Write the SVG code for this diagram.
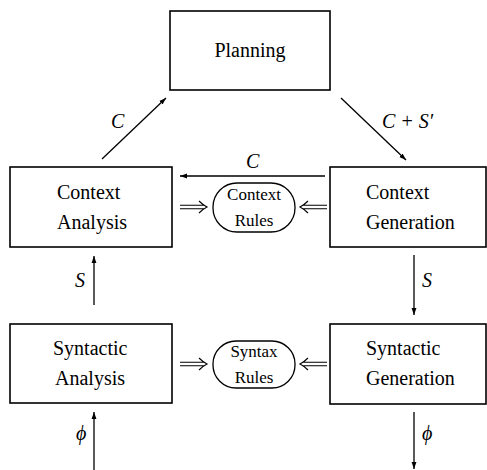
<svg xmlns="http://www.w3.org/2000/svg" width="487" height="470" viewBox="0 0 487 470">
<style>
.box{fill:none;stroke:#000;stroke-width:1.6}
.rule{fill:none;stroke:#000;stroke-width:1.3}
.t{font-family:"Liberation Serif","DejaVu Serif",serif;font-size:20px;fill:#000}
.s{font-family:"Liberation Serif","DejaVu Serif",serif;font-size:17px;fill:#000;text-anchor:middle}
.m{font-family:"Liberation Serif","DejaVu Serif",serif;font-size:20px;font-style:italic;fill:#000}
.ln{fill:none;stroke:#000;stroke-width:1.3}
.dbl{fill:none;stroke:#000;stroke-width:1.1}
</style>
<defs>
<marker id="ah" viewBox="0 0 10 10" refX="10" refY="5" markerWidth="7" markerHeight="7" markerUnits="userSpaceOnUse" orient="auto">
<path d="M0,1.5 L10,5 L0,8.5 z" fill="#000"/>
</marker>
</defs>
<g id="planning">
<rect class="box" x="170" y="11" width="160" height="79"/>
<text class="t" x="250" y="57" text-anchor="middle">Planning</text>
</g>
<g id="context-analysis">
<rect class="box" x="10" y="167" width="162" height="80"/>
<text class="t" x="57" y="199">Context</text>
<text class="t" x="57" y="229">Analysis</text>
</g>
<g id="context-rules">
<rect class="rule" x="213" y="183" width="82" height="49" rx="24" ry="24"/>
<text class="s" x="254" y="200">Context</text>
<text class="s" x="254" y="226">Rules</text>
</g>
<g id="context-generation">
<rect class="box" x="330" y="167" width="156" height="80"/>
<text class="t" x="366" y="199">Context</text>
<text class="t" x="366" y="229">Generation</text>
</g>
<g id="syntactic-analysis">
<rect class="box" x="10" y="324" width="162" height="79"/>
<text class="t" x="53" y="355">Syntactic</text>
<text class="t" x="55" y="385">Analysis</text>
</g>
<g id="syntax-rules">
<rect class="rule" x="213" y="341" width="82" height="47" rx="23" ry="23"/>
<text class="s" x="254" y="357">Syntax</text>
<text class="s" x="254" y="383">Rules</text>
</g>
<g id="syntactic-generation">
<rect class="box" x="330" y="324" width="156" height="80"/>
<text class="t" x="366" y="355">Syntactic</text>
<text class="t" x="366" y="385">Generation</text>
</g>
<g id="connectors">
<line class="ln" x1="102" y1="159" x2="166" y2="98" marker-end="url(#ah)"/>
<text class="m" x="111" y="128">C</text>
<line class="ln" x1="341" y1="98" x2="406" y2="160" marker-end="url(#ah)"/>
<text class="m" x="382" y="128">C + S′</text>
<line class="ln" x1="325" y1="176" x2="180" y2="176" marker-end="url(#ah)"/>
<text class="m" x="246" y="168">C</text>
<line class="ln" x1="94" y1="305" x2="94" y2="256" marker-end="url(#ah)"/>
<text class="m" x="75" y="287">S</text>
<line class="ln" x1="414" y1="255" x2="414" y2="315" marker-end="url(#ah)"/>
<text class="m" x="422" y="287">S</text>
<line class="ln" x1="94" y1="470" x2="94" y2="412" marker-end="url(#ah)"/>
<text class="m" x="76" y="440">ϕ</text>
<line class="ln" x1="414" y1="412" x2="414" y2="469" marker-end="url(#ah)"/>
<text class="m" x="422" y="440">ϕ</text>
<path class="dbl" d="M180,205.2 H204 M180,208.8 H204 M199,201 Q203,205 207,207 Q203,209 199,213"/>
<path class="dbl" d="M327,205.2 H303 M327,208.8 H303 M308,201 Q304,205 300,207 Q304,209 308,213"/>
<path class="dbl" d="M180,362.2 H204 M180,365.8 H204 M199,358 Q203,362 207,364 Q203,366 199,370"/>
<path class="dbl" d="M327,362.2 H303 M327,365.8 H303 M308,358 Q304,362 300,364 Q304,366 308,370"/>
</g>
</svg>
